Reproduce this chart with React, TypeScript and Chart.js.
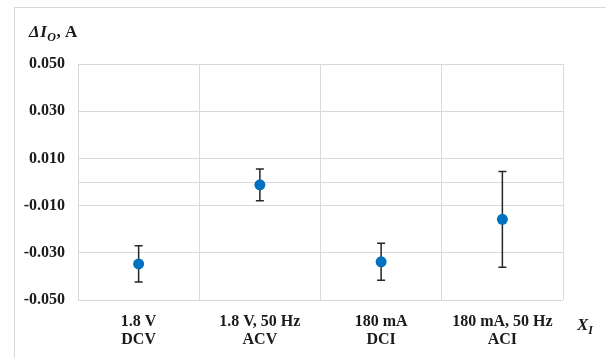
import React, { useEffect, useRef } from "react";
import { Chart, registerables } from "chart.js";

Chart.register(...registerables);

const categories: string[][] = [
  ["1.8 V", "DCV"],
  ["1.8 V, 50 Hz", "ACV"],
  ["180 mA", "DCI"],
  ["180 mA, 50 Hz", "ACI"],
];
const meanValues: number[] = [-0.0347, -0.0012, -0.0338, -0.0158];
const errorValues: number[] = [0.0077, 0.0067, 0.0078, 0.0203];
const yMin = -0.05;
const yMax = 0.05;
const yStep = 0.02;

const FONT = "'Liberation Serif', 'Times New Roman', serif";

const extrasPlugin = {
  id: "extras",
  beforeDatasetsDraw(chart: any) {
    const { ctx, chartArea, scales } = chart;
    const xs = scales.x;
    const ys = scales.y;
    ctx.save();
    const y0 = Math.round(ys.getPixelForValue(0)) + 0.5;
    ctx.strokeStyle = "#d9d9d9";
    ctx.lineWidth = 1;
    ctx.beginPath();
    ctx.moveTo(chartArea.left, y0);
    ctx.lineTo(chartArea.right, y0);
    ctx.stroke();
    ctx.strokeStyle = "#262626";
    ctx.lineWidth = 1.5;
    meanValues.forEach((v, i) => {
      const e = errorValues[i];
      const x = xs.getPixelForValue(i);
      const yt = ys.getPixelForValue(v + e);
      const yb = ys.getPixelForValue(v - e);
      ctx.beginPath();
      ctx.moveTo(x, yt);
      ctx.lineTo(x, yb);
      ctx.moveTo(x - 4, yt);
      ctx.lineTo(x + 4, yt);
      ctx.moveTo(x - 4, yb);
      ctx.lineTo(x + 4, yb);
      ctx.stroke();
    });
    ctx.restore();
  },
};

export default function App() {
  const ref = useRef<HTMLCanvasElement | null>(null);
  useEffect(() => {
    if (!ref.current) return;
    const chart = new Chart(ref.current, {
      type: "line",
      data: {
        labels: categories as any,
        datasets: [
          {
            data: meanValues,
            showLine: false,
            pointRadius: 5.5,
            pointHoverRadius: 5.5,
            pointBackgroundColor: "#0070C0",
            pointBorderWidth: 0,
            borderColor: "#0070C0",
          },
        ],
      },
      options: {
        animation: false,
        responsive: false,
        devicePixelRatio: 1,
        events: [],
        layout: { padding: { left: 0, top: 64, right: 43, bottom: 0 } },
        plugins: {
          legend: { display: false },
          tooltip: { enabled: false },
          title: { display: false },
        },
        scales: {
          x: {
            type: "category",
            offset: true,
            grid: { offset: true, color: "#d9d9d9", drawTicks: false },
            border: { display: false },
            ticks: {
              color: "#1a1a1a",
              padding: 13,
              maxRotation: 0,
              autoSkip: false,
              font: { family: FONT, size: 16, weight: "bold", lineHeight: 1.1 },
            },
            afterFit: (s: any) => {
              s.height = 58;
            },
          },
          y: {
            min: yMin,
            max: yMax,
            grid: { color: "#d9d9d9", drawTicks: false },
            border: { display: false },
            ticks: {
              stepSize: yStep,
              padding: 13,
              color: "#1a1a1a",
              font: { family: FONT, size: 16, weight: "bold" },
              callback: (v: any) => Number(v).toFixed(3),
            },
            afterFit: (s: any) => {
              s.width = 78;
            },
          },
        },
      },
      plugins: [extrasPlugin],
    } as any);
    return () => chart.destroy();
  }, []);

  const titleStyle: React.CSSProperties = {
    position: "absolute",
    fontFamily: FONT,
    fontWeight: "bold",
    fontSize: 17,
    color: "#1a1a1a",
    whiteSpace: "nowrap",
  };
  const subStyle: React.CSSProperties = {
    fontSize: 12,
    position: "relative",
    top: 4,
    fontStyle: "italic",
  };

  return (
    <div
      style={{
        position: "fixed",
        left: 0,
        top: 0,
        width: 606,
        height: 358,
        background: "#fff",
        overflow: "hidden",
      }}
    >
      <div
        style={{
          position: "absolute",
          left: 14,
          top: 7,
          width: 640,
          height: 400,
          borderLeft: "1px solid #d9d9d9",
          borderTop: "1px solid #d9d9d9",
        }}
      />
      <canvas
        ref={ref}
        width={606}
        height={358}
        style={{ position: "absolute", left: 0, top: 0, width: 606, height: 358 }}
      />
      <div style={{ ...titleStyle, left: 29, top: 22, letterSpacing: 0.5 }}>
        <i>ΔI</i>
        <span style={subStyle}>O</span>, A
      </div>
      <div style={{ ...titleStyle, left: 577, top: 315 }}>
        <i>X</i>
        <span style={subStyle}>I</span>
      </div>
    </div>
  );
}
